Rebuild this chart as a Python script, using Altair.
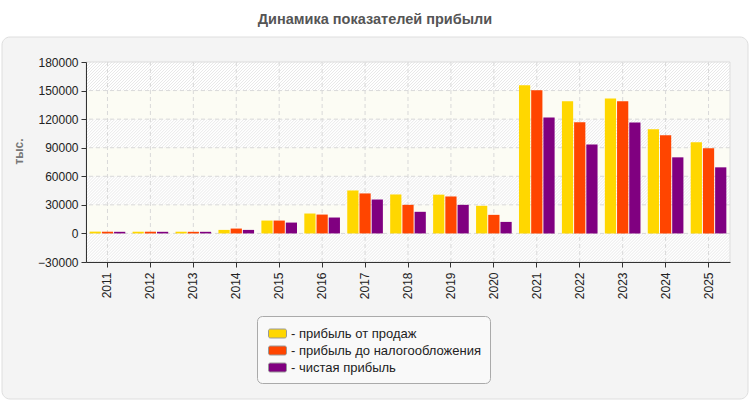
import math
import altair as alt
import pandas as pd

# --- data -------------------------------------------------------------
years = [str(y) for y in range(2011, 2026)]
series = ["прибыль от продаж", "прибыль до налогообложения", "чистая прибыль"]
colors = ["#FFD700", "#FF4500", "#800080"]

sales = [1900, 1800, 1800, 3700, 13500, 20900, 45100, 40900, 40700, 29000,
         155500, 138700, 141800, 109400, 95700]
pretax = [1800, 1800, 1700, 5100, 13500, 19800, 42000, 30000, 38800, 19500,
          150300, 116800, 138700, 103100, 89400]
net = [1700, 1700, 1700, 3700, 11400, 16700, 35600, 22700, 30000, 12100,
       121800, 93300, 116500, 79900, 69400]

y_ticks = [-30000, 0, 30000, 60000, 90000, 120000, 150000, 180000]

# --- tables -----------------------------------------------------------
rows = []
for i, yr in enumerate(years):
    for name, vals in zip(series, [sales, pretax, net]):
        rows.append({"year": yr, "series": name, "value": vals[i]})
df = pd.DataFrame(rows)

band_kind = ["hatch", "plain", "hatch", "plain", "hatch", "plain", "hatch"]
bands = pd.DataFrame({"lo": y_ticks[:-1], "hi": y_ticks[1:], "kind": band_kind})
grid_y = pd.DataFrame({"v": y_ticks[1:-1]})
grid_x = pd.DataFrame({"year": years})

W, H = 644, 200
BH = H / 7.0

# diagonal hatch built as a striped linear gradient (45 degree "///")
k = (W + BH) * W * BH / (W ** 2 + BH ** 2)
period = 3.0
span = W + BH
stops = []
n = int(math.ceil(span / period))
for i in range(n):
    base = i * period / span
    for frac, col in [(0.0, "#ffffff"), (0.45, "#ffffff"), (0.72, "#e3e3e3")]:
        off = base + frac * period / span
        if off <= 1.0:
            stops.append(alt.GradientStop(offset=off, color=col))
hatch = alt.LinearGradient(gradient="linear", stops=stops,
                           x1=0, y1=0, x2=k / BH, y2=k / W)

yscale = alt.Scale(domain=[-30000, 180000], nice=False, zero=False)
xscale = alt.Scale(paddingInner=0.17, paddingOuter=0.085)

y_axis = alt.Axis(values=y_ticks, format="d", tickSize=5, labelPadding=3,
                  domainColor="#333333", tickColor="#333333",
                  labelFontSize=12, labelColor="#222222", grid=False,
                  zindex=1, titleFontSize=12, titleFontWeight="bold",
                  titleColor="#777777", titleX=-68, titleY=89,
                  titleAngle=-90, titleAlign="center", titleBaseline="middle")
x_axis = alt.Axis(labelAngle=-90, tickSize=5, labelPadding=5,
                  domainColor="#333333", tickColor="#333333",
                  labelFontSize=12, labelColor="#222222", grid=False,
                  zindex=1)

# rounded panel behind the plot
panel = alt.Chart(pd.DataFrame({"p": [0]})).mark_rect(
    fill="#f4f4f4", stroke="#dedede", strokeWidth=1, cornerRadius=8
).encode(
    x=alt.value(-84), x2=alt.value(662), y=alt.value(-25), y2=alt.value(337)
)

hatched = alt.Chart(bands).transform_filter(alt.datum.kind == "hatch").mark_rect(
    fill=hatch
).encode(
    x=alt.value(0), x2=alt.value({"expr": "width"}),
    y=alt.Y("lo:Q", scale=yscale, axis=y_axis, title="тыс."), y2="hi:Q"
)

plain = alt.Chart(bands).transform_filter(alt.datum.kind == "plain").mark_rect(
    fill="#fcfcf4"
).encode(
    x=alt.value(0), x2=alt.value({"expr": "width"}),
    y=alt.Y("lo:Q", scale=yscale, axis=y_axis, title="тыс."), y2="hi:Q"
)

hgrid = alt.Chart(grid_y).mark_rule(
    color="#d9d9d9", strokeDash=[4, 3], strokeWidth=1
).encode(y=alt.Y("v:Q", scale=yscale, axis=y_axis, title="тыс."))

vgrid = alt.Chart(grid_x).mark_rule(
    color="#d9d9d9", strokeDash=[4, 3], strokeWidth=1
).encode(x=alt.X("year:N", scale=xscale, axis=x_axis, sort=years, title=None))

bars = alt.Chart(df).mark_bar().encode(
    x=alt.X("year:N", sort=years, scale=xscale, title=None, axis=x_axis),
    xOffset=alt.XOffset("series:N", sort=series,
                        scale=alt.Scale(paddingInner=0.08)),
    y=alt.Y("value:Q", scale=yscale, title="тыс.", axis=y_axis),
    color=alt.Color(
        "series:N", sort=series,
        scale=alt.Scale(domain=series, range=colors),
        legend=alt.Legend(
            title=None, orient="none", legendX=171, legendY=254,
            direction="vertical", fillColor="#f9f9f9", strokeColor="#aaaaaa",
            cornerRadius=5, padding=8, symbolOffset=3, rowPadding=0,
            symbolType=("M-0.8,-0.5H0.8A0.2,0.2,0,0,1,1,-0.3V0.3"
                        "A0.2,0.2,0,0,1,0.8,0.5H-0.8A0.2,0.2,0,0,1,-1,0.3"
                        "V-0.3A0.2,0.2,0,0,1,-0.8,-0.5Z"),
            symbolSize=324, symbolStrokeColor="#999999",
            symbolStrokeWidth=1, labelFontSize=13, labelColor="#222222",
            labelExpr="'- ' + datum.label", labelOffset=4, labelLimit=400,
        ),
    ),
)

frame = alt.Chart(pd.DataFrame({"p": [0]})).mark_rect(
    fill=None, stroke="#dddddd", strokeWidth=1
).encode(x=alt.value(0), x2=alt.value({"expr": "width"}),
         y=alt.value(0), y2=alt.value({"expr": "height"}))

chart = alt.layer(panel, hatched, plain, hgrid, vgrid, frame, bars).properties(
    width=W, height=H,
    title=alt.TitleParams("Динамика показателей прибыли", fontSize=14.5,
                          fontWeight="bold", color="#555555",
                          font="Liberation Sans", anchor="middle",
                          frame="group", dx=-33, offset=9),
    autosize=alt.AutoSizeParams(type="none"),
    padding={"left": 86, "top": 62, "right": 20, "bottom": 138},
    background="#ffffff",
).configure_view(stroke=None, fill=None).configure(
    font="Liberation Sans"
)

chart.save("out.html", embed_options={"renderer": "svg", "actions": False})
